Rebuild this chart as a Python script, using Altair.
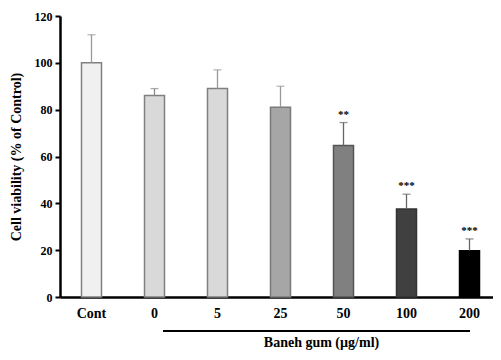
import altair as alt
import pandas as pd

categories = ["Cont", "0", "5", "25", "50", "100", "200"]
means = [100, 86, 89, 81, 64.7, 37.6, 19.8]
err_tops = [112, 89, 97, 90, 74.5, 43.9, 24.8]
stars = ["", "", "", "", "**", "***", "***"]
fills = ["#f0f0f0", "#d9d9d9", "#d9d9d9", "#a6a6a6", "#808080", "#404040", "#000000"]
strokes = ["#808080", "#808080", "#808080", "#7a7a7a", "#555555", "#333333", "#000000"]
err_colors = ["#999999", "#8a8a8a", "#999999", "#999999", "#666666", "#666666", "#666666"]

df = pd.DataFrame({
    "cat": categories, "mean": means, "top": err_tops, "star": stars,
    "fill": fills, "stroke": strokes, "ec": err_colors,
})

FONT = "Liberation Serif"
W, H = 433, 281

x = alt.X("cat:N", sort=categories,
          scale=alt.Scale(paddingInner=0, paddingOuter=0, range=[0, 441]),
          axis=alt.Axis(title="Baneh gum (\u00b5g/ml)", labelAngle=0, ticks=False,
                        domain=True, domainColor="black", domainWidth=2.5,
                        labelFont=FONT, labelFontWeight="bold", labelFontSize=14,
                        labelColor="black", labelPadding=9,
                        titleFont=FONT, titleFontWeight="bold", titleFontSize=14,
                        titleColor="black", titleX=261, titleY=45,
                        titleBaseline="middle", titleAnchor="middle"))
y = alt.Y("mean:Q", scale=alt.Scale(domain=[0, 120], nice=False),
          axis=alt.Axis(title="Cell viability (% of Control)", values=[0, 20, 40, 60, 80, 100, 120],
                        grid=False, domainColor="black", domainWidth=2.5,
                        tickColor="black", tickSize=5, tickWidth=2,
                        labelFont=FONT, labelFontWeight="bold", labelFontSize=12,
                        labelColor="black", labelPadding=3,
                        titleFont=FONT, titleFontWeight="bold", titleFontSize=14,
                        titleColor="black", titlePadding=11))

base = alt.Chart(df)

bars = base.mark_bar(size=20, strokeWidth=1.5).encode(
    x=x, y=y,
    fill=alt.Fill("fill:N", scale=None),
    stroke=alt.Stroke("stroke:N", scale=None),
)

err = base.mark_rule(strokeWidth=1.3).encode(
    x=alt.X("cat:N", sort=categories), y="mean:Q", y2="top:Q",
    color=alt.Color("ec:N", scale=None),
)
caps = base.mark_tick(orient="horizontal", size=8, thickness=1.3).encode(
    x=alt.X("cat:N", sort=categories), y="top:Q",
    color=alt.Color("ec:N", scale=None),
)
star_txt = base.mark_text(baseline="bottom", dy=-3, fontSize=11, fontWeight="bold",
                          font=FONT, color="black").encode(
    x=alt.X("cat:N", sort=categories), y="top:Q", text="star:N",
)

underline = alt.Chart(pd.DataFrame({"a": [0]})).mark_rule(color="black", strokeWidth=2).encode(
    x=alt.value(103), x2=alt.value(410), y=alt.value(315),
)

chart = alt.layer(bars, err, caps, star_txt, underline).properties(
    width=W, height=H,
    autosize=alt.AutoSizeParams(type="none"),
    padding={"left": 52, "top": 8, "right": 0, "bottom": 55},
).configure_view(stroke=None)

chart.save("out.html", embed_options={"renderer": "svg", "actions": False})
